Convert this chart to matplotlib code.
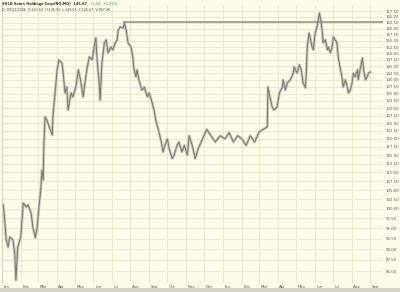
"""SHLD daily price chart, Jan 2005 - Sep 2006, log price scale."""

import matplotlib
matplotlib.use("Agg")
import matplotlib.pyplot as plt
import matplotlib.dates as mdates
import matplotlib.transforms as mtransforms
import numpy as np
import pandas as pd

# --- price path (date, close) ---
seg_dates = [
    "2005-01-03", "2005-01-05", "2005-01-08", "2005-01-11", "2005-01-14",
    "2005-01-19", "2005-01-22", "2005-01-24", "2005-01-27", "2005-02-01",
    "2005-02-05", "2005-02-10", "2005-02-13", "2005-02-18", "2005-02-21",
    "2005-02-25", "2005-02-28", "2005-03-03", "2005-03-06", "2005-03-08",
    "2005-03-10", "2005-03-11", "2005-03-13", "2005-03-16", "2005-03-20",
    "2005-03-25", "2005-03-26", "2005-03-30", "2005-04-02", "2005-04-05",
    "2005-04-10", "2005-04-12", "2005-04-15", "2005-04-18", "2005-04-20",
    "2005-04-25", "2005-04-28", "2005-05-03", "2005-05-07", "2005-05-10",
    "2005-05-15", "2005-05-18", "2005-05-21", "2005-05-25", "2005-05-30",
    "2005-06-02", "2005-06-05", "2005-06-07", "2005-06-10", "2005-06-12",
    "2005-06-15", "2005-06-19", "2005-06-22", "2005-06-25", "2005-06-30",
    "2005-07-03", "2005-07-07", "2005-07-10", "2005-07-12", "2005-07-15",
    "2005-07-20", "2005-07-22", "2005-07-25", "2005-07-28", "2005-08-02",
    "2005-08-05", "2005-08-07", "2005-08-10", "2005-08-12", "2005-08-15",
    "2005-08-20", "2005-08-24", "2005-08-29", "2005-09-01", "2005-09-06",
    "2005-09-09", "2005-09-12", "2005-09-16", "2005-09-21", "2005-09-24",
    "2005-09-27", "2005-10-01", "2005-10-04", "2005-10-09", "2005-10-12",
    "2005-10-17", "2005-10-20", "2005-10-25", "2005-10-29", "2005-11-03",
    "2005-11-06", "2005-11-11", "2005-11-16", "2005-11-21", "2005-11-28",
    "2005-12-05", "2005-12-12", "2005-12-19", "2005-12-27", "2006-01-04",
    "2006-01-11", "2006-01-18", "2006-01-25", "2006-02-01", "2006-02-08",
    "2006-02-15", "2006-02-22", "2006-03-01", "2006-03-06", "2006-03-15",
    "2006-03-16", "2006-03-23", "2006-03-26", "2006-03-31", "2006-04-04",
    "2006-04-09", "2006-04-10", "2006-04-14", "2006-04-17", "2006-04-22",
    "2006-04-27", "2006-04-28", "2006-05-03", "2006-05-07", "2006-05-10",
    "2006-05-13", "2006-05-17", "2006-05-18", "2006-05-20", "2006-05-23",
    "2006-05-28", "2006-05-30", "2006-06-02", "2006-06-05", "2006-06-07",
    "2006-06-09", "2006-06-12", "2006-06-14", "2006-06-15", "2006-06-19",
    "2006-06-22", "2006-06-24", "2006-06-27", "2006-06-30", "2006-07-02",
    "2006-07-05", "2006-07-08", "2006-07-10", "2006-07-13", "2006-07-17",
    "2006-07-18", "2006-07-22", "2006-07-25", "2006-07-27", "2006-07-30",
    "2006-08-02", "2006-08-04", "2006-08-07", "2006-08-11", "2006-08-12",
    "2006-08-16", "2006-08-19", "2006-08-21", "2006-08-24", "2006-08-27",
    "2006-08-29", "2006-09-01",
]
seg_close = [
    101.0, 97.9, 92.2, 90.5, 92.9,
    92.2, 89.1, 83.0, 90.5, 92.9,
    101.5, 100.5, 101.0, 98.9, 95.3,
    92.7, 95.1, 100.5, 105.0, 110.6,
    107.8, 117.2, 127.1, 126.1, 123.8,
    121.2, 127.1, 136.3, 143.7, 147.5,
    146.3, 142.5, 135.3, 137.4, 129.4,
    135.3, 133.9, 137.4, 143.7, 140.7,
    133.9, 138.9, 143.7, 148.6, 147.5,
    152.5, 156.2, 147.5, 140.0, 132.8,
    146.3, 154.2, 155.4, 150.2, 152.5,
    151.4, 154.2, 155.4, 159.5, 160.7,
    160.3, 162.4, 159.5, 154.2, 152.5,
    148.6, 143.7, 141.1, 143.7, 140.0,
    136.3, 137.4, 133.9, 135.3, 131.8,
    129.4, 126.0, 123.0, 119.0, 116.0,
    118.0, 120.0, 117.0, 114.0, 115.0,
    118.0, 119.0, 116.0, 118.0, 115.0,
    121.0, 118.0, 114.0, 117.0, 120.0,
    123.0, 121.0, 119.0, 121.0, 120.0,
    122.0, 119.0, 121.0, 120.0, 118.0,
    121.0, 119.0, 122.0, 122.8, 123.8,
    137.4, 130.4, 129.4, 130.4, 135.3,
    137.4, 140.0, 136.3, 138.9, 140.0,
    142.5, 144.8, 142.5, 145.6, 143.7,
    138.9, 137.1, 141.1, 152.5, 158.2,
    152.5, 151.4, 158.2, 160.7, 163.7,
    166.7, 162.4, 158.2, 154.2, 155.4,
    151.4, 152.5, 150.2, 152.5, 156.6,
    155.4, 154.2, 148.6, 144.8, 140.0,
    137.4, 140.0, 137.4, 135.3, 136.3,
    138.9, 142.5, 141.1, 143.7, 140.0,
    144.8, 148.2, 143.7, 140.0, 141.1,
    142.5, 142.9,
]

# horizontal resistance line drawn from the 2005 high
resist_start = "2005-07-22"
resist_level = 162.9

price_ticks = np.arange(85.0, 170.0, 2.5)
months = pd.date_range("2005-01-01", "2006-09-01", freq="MS")

title_main = "SHLD Sears Holdings Corp(NQ:MQ)  145.67"
title_chg = "+1.51  +1.05%"
title_sub = "D: 09/22/2006  O:143.63  H:145.91  L:143.06  C:145.67  V:967.2K"

BG = "#FDFDEC"
GRID = "#E9E5C9"
BAR = "#767672"

dates = pd.to_datetime(seg_dates)

fig = plt.figure(figsize=(4.0, 2.92), dpi=100, facecolor=BG)
ax = fig.add_axes([0.005, 0.031, 0.9525, 0.952], facecolor=BG)

# price bars (approximated as a fuzzy path)
ax.plot(dates, seg_close, color="#C9C8BC", linewidth=2.0, zorder=2)
ax.plot(dates, seg_close, color=BAR, linewidth=0.7, zorder=3)

# resistance line
ax.plot([pd.Timestamp(resist_start), pd.Timestamp("2006-09-30")],
        [resist_level, resist_level], color="#8E8D7C", linewidth=1.1, zorder=4)

ax.set_yscale("log")
ax.set_ylim(82.4, 170.2)
ax.set_xlim(pd.Timestamp("2005-01-01"), pd.Timestamp("2006-09-22"))

ax.yaxis.set_major_locator(matplotlib.ticker.FixedLocator(price_ticks))
ax.yaxis.set_minor_locator(matplotlib.ticker.NullLocator())
ax.yaxis.set_major_formatter(matplotlib.ticker.FuncFormatter(lambda v, _: f"{v:.2f}"))
ax.yaxis.tick_right()
ax.tick_params(axis="y", length=0, pad=2.0, labelsize=2.8, labelcolor="#5A5A5A")

ax.xaxis.set_major_locator(mdates.MonthLocator())
ax.xaxis.set_major_formatter(matplotlib.ticker.NullFormatter())
ax.tick_params(axis="x", length=0)

ax.grid(True, color=GRID, linewidth=0.6, zorder=0)
for side in ["top", "right", "bottom", "left"]:
    ax.spines[side].set_visible(False)
ax.spines["left"].set_visible(True)
ax.spines["left"].set_color("#D8D4BC")
ax.spines["left"].set_linewidth(0.8)

# month labels just right of each gridline
offset = mtransforms.ScaledTranslation(1.5 / 100, 0, fig.dpi_scale_trans)
trans = mtransforms.blended_transform_factory(ax.transData, ax.transAxes) + offset
for m in months:
    ax.text(m, -0.006, m.strftime("%b"), transform=trans, ha="left", va="top",
            fontsize=2.8, color="#555555")

# header text
fig.text(0.006, 0.994, title_main, ha="left", va="top", fontsize=2.5,
         color="#333333", fontweight="bold")
fig.text(0.225, 0.994, title_chg, ha="left", va="top", fontsize=2.5, color="#2E9A2E")
fig.text(0.006, 0.972, title_sub, ha="left", va="top", fontsize=2.3, color="#444444")

# bottom grey strip
fig.patches.append(matplotlib.patches.Rectangle((0, 0), 1, 0.012, transform=fig.transFigure,
                                                facecolor="#D6D3C8", edgecolor="none"))

fig.savefig("out.png", dpi=100, facecolor=BG)
